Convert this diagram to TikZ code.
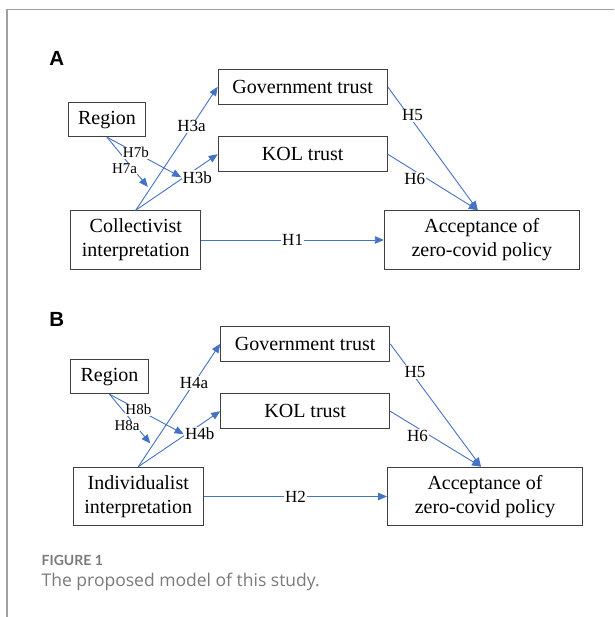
\documentclass[tikz,border=0pt]{standalone}
\usepackage{fontspec}
\setmainfont{Liberation Serif}
\newfontfamily\panelfont{Liberation Sans}
\newfontfamily\capfont{Lato}
\newfontfamily\captextfont{Open Sans}
\usetikzlibrary{arrows.meta}

\definecolor{linkblue}{HTML}{4472C4}
\definecolor{boxgray}{HTML}{404040}
\definecolor{framegray}{HTML}{A0A0A0}
\definecolor{capgray}{HTML}{7A7A7A}

\tikzset{
  box/.style={draw=boxgray,line width=1pt,inner sep=0pt,align=center,
    font=\fontsize{20}{24}\selectfont},
  smallbox/.style={box,minimum width=169pt,minimum height=35pt},
  tallbox/.style={box,minimum height=58.6pt},
  link/.style={draw=linkblue,line width=0.9pt,-{Triangle[length=9pt,width=7.5pt]}},
  hlab/.style={fill=white,inner sep=1pt,font=\fontsize{17}{17}\selectfont},
  slab/.style={fill=white,inner sep=0.5pt,font=\fontsize{15}{15}\selectfont},
  panel/.style={font=\panelfont\bfseries\fontsize{20.5}{20.5}\selectfont}
}

\begin{document}
\begin{tikzpicture}[x=1pt,y=-1pt]
  \useasboundingbox (0,0) rectangle (614,617);
  % page frame
  \draw[framegray,line width=1.2pt] (7,617) -- (7,9.5) -- (614,9.5);

  % panel A
  \node[panel] (labA) at (56.7,58.2) {A};
  \node[smallbox] (govA) at (302.7,86.8) {Government trust};
  \node[smallbox] (kolA) at (302.7,154.2) {KOL trust};
  \node[box,minimum width=77.5pt,minimum height=34pt] (regA) at (107,119.7) {Region};
  \node[tallbox,minimum width=130.3pt] (collA) at (135.8,240) {Collectivist\\interpretation};
  \node[tallbox,minimum width=195pt] (accA) at (481.8,240) {Acceptance of\\zero-covid policy};
  \draw[link] (collA.north) -- coordinate[pos=0.17] (onA)
      node[hlab,pos=0.68] {H3a} (govA.west);
  \draw[link] (collA.north) -- node[hlab,pos=0.75,yshift=-9pt] (h3bA) {H3b} (kolA.west);
  \draw[link,shorten >=3pt] (regA.south) -- node[slab,pos=0.6,xshift=-8pt] {H7a} (onA);
  \draw[link] (regA.south) -- node[slab,pos=0.39] {H7b} (h3bA.west);
  \draw[link] (collA.east) -- node[hlab] {H1} (accA.west);
  \draw[link] (govA.east) -- node[hlab,pos=0.23,xshift=4pt] {H5} ([xshift=-4pt]accA.north);
  \draw[link] (kolA.east) -- node[hlab,pos=0.3,yshift=-8pt] {H6} ([xshift=-4pt]accA.north);

  % panel B
  \node[panel] (labB) at (56.7,319.5) {B};
  \begin{scope}[shift={(2.5,257)}]
    \node[smallbox] (govB) at (302.7,86.8) {Government trust};
    \node[smallbox] (kolB) at (302.7,154.2) {KOL trust};
    \node[box,minimum width=77.5pt,minimum height=34pt] (regB) at (107,119.7) {Region};
    \node[tallbox,minimum width=130.3pt] (indB) at (135.8,239.5) {Individualist\\interpretation};
    \node[tallbox,minimum width=195pt] (accB) at (482.5,239.5) {Acceptance of\\zero-covid policy};
  \end{scope}
  \draw[link] (indB.north) -- coordinate[pos=0.17] (onB)
      node[hlab,pos=0.68] {H4a} (govB.west);
  \draw[link] (indB.north) -- node[hlab,pos=0.75,yshift=-9pt] (h4bB) {H4b} (kolB.west);
  \draw[link,shorten >=3pt] (regB.south) -- node[slab,pos=0.6,xshift=-8pt] {H8a} (onB);
  \draw[link] (regB.south) -- node[slab,pos=0.39] {H8b} (h4bB.west);
  \draw[link] (indB.east) -- node[hlab] {H2} (accB.west);
  \draw[link] (govB.east) -- node[hlab,pos=0.23,xshift=4pt] {H5} ([xshift=-4pt]accB.north);
  \draw[link] (kolB.east) -- node[hlab,pos=0.3,yshift=-8pt] {H6} ([xshift=-4pt]accB.north);

  % caption
  \node[anchor=base west,inner sep=0pt,text=capgray,font=\capfont\bfseries\fontsize{14}{14}\selectfont]
    (figno) at (41.5,565) {FIGURE 1};
  \node[anchor=base west,inner sep=0pt,text=capgray,font=\captextfont\fontsize{17.5}{17.5}\selectfont]
    (figcap) at (41.5,586.7) {The proposed model of this study.};
\end{tikzpicture}
\end{document}
